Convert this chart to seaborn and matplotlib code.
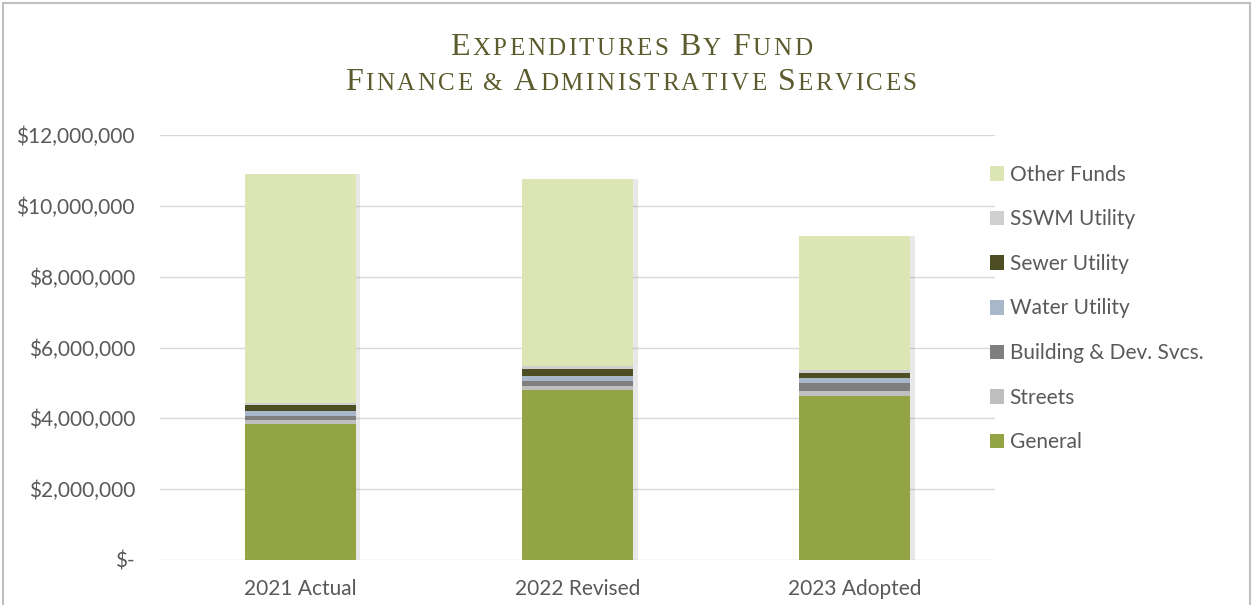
import matplotlib
matplotlib.use("Agg")
import matplotlib.pyplot as plt
import matplotlib.patheffects as pe
from matplotlib.offsetbox import TextArea, HPacker, AnchoredOffsetbox
from matplotlib.patches import Rectangle, Patch
from matplotlib.ticker import FuncFormatter
import seaborn as sns

# Fiscal years and fund expenditures (USD)
years = ["2021 Actual", "2022 Revised", "2023 Adopted"]
general = [3830000, 4800000, 4630000]
streets = [120000, 120000, 140000]
building_dev = [120000, 130000, 220000]
water_utility = [130000, 140000, 140000]
sewer_utility = [190000, 190000, 150000]
sswm_utility = [30000, 90000, 80000]
other_funds = [6470000, 5280000, 3780000]

funds = ["General", "Streets", "Building & Dev. Svcs.", "Water Utility",
         "Sewer Utility", "SSWM Utility", "Other Funds"]
series = [general, streets, building_dev, water_utility,
          sewer_utility, sswm_utility, other_funds]
colors = ["#93a445", "#bfbfbf", "#7f7f7f", "#a9b7ca",
          "#4e4e24", "#cfcfcf", "#dce6b5"]

sns.set_theme(style="white")
plt.rcParams["font.family"] = ["Lato", "DejaVu Sans"]
text_color = "#595959"
fs = 15

fig = plt.figure(figsize=(12.55, 6.05), dpi=100)
ax = fig.add_axes([160 / 1255, 1 - 560 / 605, 835 / 1255, 425 / 605])

bottom = [0, 0, 0]
for name, vals, col in zip(funds, series, colors):
    sns.barplot(x=years, y=vals, bottom=bottom, color=col, width=0.4,
                errorbar=None, ax=ax, saturation=1,
                linewidth=0, edgecolor="none")
    bottom = [b + v for b, v in zip(bottom, vals)]

shadow = [pe.SimplePatchShadow(offset=(3.5, 0), shadow_rgbFace="#8c8c8c", alpha=0.2),
          pe.Normal()]
for p in ax.patches:
    p.set_path_effects(shadow)

if ax.get_legend() is not None:
    ax.get_legend().remove()

ax.set_ylim(0, 12_000_000)
ax.set_xlim(-0.505, 2.505)
ax.set_yticks(range(0, 12_000_001, 2_000_000))
ax.yaxis.set_major_formatter(FuncFormatter(
    lambda v, _: "$-" if v == 0 else f"${v:,.0f}"))
ax.yaxis.grid(True, color="#d9d9d9", linewidth=1)
ax.set_axisbelow(True)
for s in ax.spines.values():
    s.set_visible(False)
ax.tick_params(axis="y", labelsize=fs, colors=text_color, pad=18, length=0)
ax.tick_params(axis="x", labelsize=fs, colors=text_color, pad=14, length=0)
ax.set_xlabel("")
ax.set_ylabel("")

handles = [Patch(facecolor=c, edgecolor="none") for c in colors]
leg = fig.legend(handles[::-1], funds[::-1], loc="upper left",
                 bbox_to_anchor=(971 / 1255, 1 - 146 / 605), frameon=False,
                 fontsize=fs, handlelength=0.7, handleheight=0.7,
                 handletextpad=0.25, labelspacing=1.18)
for t in leg.get_texts():
    t.set_color(text_color)


def small_caps_line(text, big, small, color, spacing):
    props = dict(color=color, family="Liberation Serif")
    parts = []
    for word_i, word in enumerate(text.split(" ")):
        if word_i:
            parts.append(TextArea(" ", textprops=dict(size=small, **props)))
        for ch in word:
            if ch.isalpha() and ch.isupper():
                parts.append(TextArea(ch, textprops=dict(size=big, **props)))
            else:
                parts.append(TextArea(ch.upper(), textprops=dict(size=small, **props)))
    return HPacker(children=parts, align="baseline", pad=0, sep=spacing)


title_color = "#5b5b2d"
for line, ypx in [("Expenditures By Fund", 62), ("Finance & Administrative Services", 97)]:
    box = AnchoredOffsetbox(loc="lower center",
                            child=small_caps_line(line, 23, 18, title_color, 1.8),
                            bbox_to_anchor=(631 / 1255, 1 - ypx / 605),
                            bbox_transform=fig.transFigure, frameon=False, pad=0, borderpad=0)
    fig.add_artist(box)

fig.add_artist(Rectangle((3 / 1255, -0.05), 1247 / 1255, 1.05 - 3 / 605,
                         transform=fig.transFigure, fill=False,
                         edgecolor="#bfbfbf", linewidth=1.5))

fig.savefig("out.png", dpi=100)
